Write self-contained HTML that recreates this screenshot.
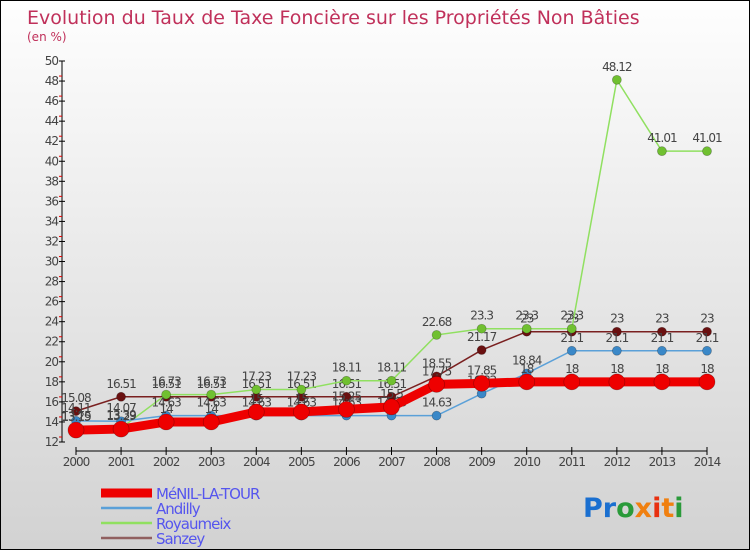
<!DOCTYPE html>
<html><head><meta charset="utf-8"><style>
body{margin:0;}
#wrap{position:relative;width:748px;height:548px;border:1px solid #000;background:linear-gradient(#fefefe,#d2d2d2);overflow:hidden;font-family:"DejaVu Sans","Liberation Sans",sans-serif;}
svg text{font-family:"DejaVu Sans","Liberation Sans",sans-serif;}
</style></head><body>
<div id="wrap">
<svg id="chart" width="748" height="548">
<text x="26" y="23" font-size="19" fill="#c0305a">Evolution du Taux de Taxe Foncière sur les Propriétés Non Bâties</text>
<text x="26" y="40" font-size="12" fill="#c0305a">(en %)</text>
<g id="axes"></g><g id="series"></g><g id="legend"></g>
<text x="582" y="516" font-size="27" font-weight="bold"><tspan fill="#1a6fd0">Pr</tspan><tspan fill="#2a9a3a">o</tspan><tspan fill="#f08010">x</tspan><tspan fill="#e83010">i</tspan><tspan fill="#f08010">t</tspan><tspan fill="#2a9a3a">i</tspan></text>
</svg></div>
<script>
const years=[2000,2001,2002,2003,2004,2005,2006,2007,2008,2009,2010,2011,2012,2013,2014];
const yTicks=[12,14,16,18,20,22,24,26,28,30,32,34,36,38,40,42,44,46,48,50];
const menil=[13.19,13.29,14,14,15,15,15.25,15.5,17.75,17.85,18,18,18,18,18];
const andilly=[14.11,14.07,14.63,14.63,14.63,14.63,14.63,14.63,14.63,16.82,18.84,21.1,21.1,21.1,21.1];
const royaumeix=[13.25,13.39,16.73,16.73,17.23,17.23,18.11,18.11,22.68,23.3,23.3,23.3,48.12,41.01,41.01];
const sanzey=[15.08,16.51,16.51,16.51,16.51,16.51,16.51,16.51,18.55,21.17,23,23,23,23,23];
const seriesNames=["MéNIL-LA-TOUR","Andilly","Royaumeix","Sanzey"];
const NS="http://www.w3.org/2000/svg";
const xs=i=>75+i*(706-75)/14;
const ys=v=>441-(v-12)*(381/38);
function mk(tag,attrs,parent){const e=document.createElementNS(NS,tag);for(const k in attrs)e.setAttribute(k,attrs[k]);parent.appendChild(e);return e;}
const ax=document.getElementById('axes');
let l=mk('line',{x1:61,y1:60,x2:61,y2:441,stroke:'#000'},ax);


l=mk('line',{x1:75,y1:450,x2:706,y2:450,stroke:'#000'},ax);


yTicks.forEach(v=>{const y=ys(v);
mk('line',{x1:58,y1:y,x2:64,y2:y,stroke:'#000'},ax);
if(v<50)mk('line',{x1:58,y1:y-5,x2:61,y2:y-5,stroke:'#e00'},ax);
const t=mk('text',{x:57,y:y+4,'font-size':12,'text-anchor':'end',fill:'#444','letter-spacing':'-1'},ax);t.textContent=v;

});
years.forEach((yr,i)=>{const x=xs(i);
mk('line',{x1:x,y1:446,x2:x,y2:454,stroke:'#000'},ax);
const t=mk('text',{x:x,y:465,'font-size':12,'text-anchor':'middle',fill:'#444','letter-spacing':'-1'},ax);t.textContent=yr;

});
const sg=document.getElementById('series');
const defs=[[sanzey,'#7a2020','#6a1010',1.5,4.5,'sanzey'],[royaumeix,'#90e060','#70c030',1.5,4.5,'royaumeix'],[andilly,'#5aa0d8','#3a88c8',1.5,4.5,'andilly'],[menil,'#ee0000','#ee0000',9,8,'menil-la-tour']];
defs.forEach(([d,c,mc,w,r,n])=>{
const g=mk('g',{},sg);


const p=mk('polyline',{points:d.map((v,i)=>xs(i)+','+ys(v)).join(' '),fill:'none',stroke:c,'stroke-width':w},g);
d.forEach((v,i)=>{const ci=mk('circle',{cx:xs(i),cy:ys(v),r:r,fill:mc,stroke:'rgba(0,0,0,0.3)','stroke-width':0.7},g);


const t=mk('text',{x:xs(i),y:ys(v)-9,'font-size':12,'text-anchor':'middle',fill:'#444','letter-spacing':'-1'},g);t.textContent=v;

});});
const lg=document.getElementById('legend');
const lc=[['#ee0000',9],['#5aa0d8',2.5],['#90e060',2.5],['#906060',2.5]];
seriesNames.forEach((n,i)=>{const y=492+i*15;
const g=mk('g',{},lg);


mk('line',{x1:100,y1:y,x2:151,y2:y,stroke:lc[i][0],'stroke-width':lc[i][1]},g);
const t=mk('text',{x:155,y:y+6,'font-size':15,fill:'#5555ee','letter-spacing':'-1'},g);t.textContent=n;});
</script></body></html>
